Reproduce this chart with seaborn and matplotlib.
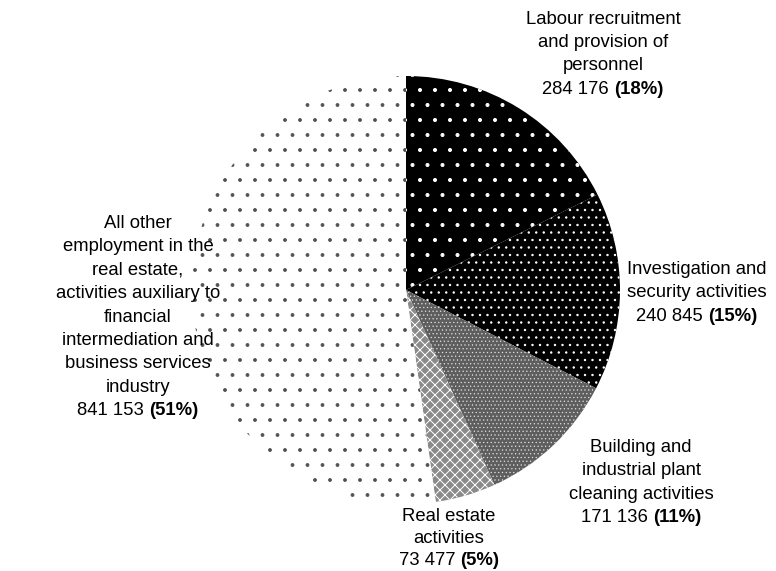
import matplotlib
matplotlib.use("Agg")
import matplotlib.pyplot as plt
import seaborn as sns

# Employment by industry group (real estate, financial intermediation support and business services)
categories = [
    "Labour recruitment\nand provision of\npersonnel",
    "Investigation and\nsecurity activities",
    "Building and\nindustrial plant\ncleaning activities",
    "Real estate\nactivities",
    "All other\nemployment in the\nreal estate,\nactivities auxiliary to\nfinancial\nintermediation and\nbusiness services\nindustry",
]
employment = [284176, 240845, 171136, 73477, 841153]
share_pct = [18, 15, 11, 5, 51]

sns.set_theme(style="white")
plt.rcParams["font.family"] = ["Liberation Sans", "DejaVu Sans"]
plt.rcParams["text.color"] = "#000000"
plt.rcParams["hatch.linewidth"] = 0.6

W, H = 776, 571
DPI = 90
fig = plt.figure(figsize=(W / DPI, H / DPI), dpi=DPI)
ax = fig.add_axes([0, 0, 1, 1])

# pie geometry in pixel units (y measured from the bottom)
cx, cy, r = 406, H - 290, 214
wedges, _ = ax.pie(
    employment,
    startangle=90,
    counterclock=False,
    center=(cx, cy),
    radius=r,
    wedgeprops=dict(linewidth=0),
)

fills = [
    dict(face="#000000", edge="#ffffff", hatch=".", lw=0.8),
    dict(face="#000000", edge="#ffffff", hatch="..", lw=0.7),
    dict(face="#5e5e5e", edge="#e0e0e0", hatch="....", lw=0.5),
    dict(face="#8a8a8a", edge="#ffffff", hatch="xxx", lw=0.8),
    dict(face="#ffffff", edge="#505050", hatch=".", lw=0.6),
]
for w, f in zip(wedges, fills):
    w.set_facecolor(f["face"])
    w.set_edgecolor(f["edge"])
    w.set_hatch(f["hatch"])
    w.set_linewidth(0)
    if hasattr(w, "set_hatch_linewidth"):
        w.set_hatch_linewidth(f["lw"])

ax.set_xlim(0, W)
ax.set_ylim(0, H)
ax.axis("off")

# label placement: centre x and first baseline (pixels from top)
label_pos = [(603, 23.5), (697, 274), (641, 452), (449, 521), (138, 228)]
step = 23.4
fs = 13.3 * 100 / DPI

fig.canvas.draw()
renderer = fig.canvas.get_renderer()

for k, (cat, val, pct, (lx, ly)) in enumerate(zip(categories, employment, share_pct, label_pos)):
    lines = cat.split("\n")
    gap = 22.0 if k == 3 else step
    for i, line in enumerate(lines):
        ax.text(lx, H - (ly + i * gap), line, ha="center", va="baseline",
                fontsize=fs, color="#000000")
    yb = H - (ly + len(lines) * gap)
    num = f"{val:,}".replace(",", " ") + " "
    t1 = ax.text(0, yb, num, ha="left", va="baseline", fontsize=fs,
                 color="#000000")
    t2 = ax.text(0, yb, f"({pct}%)", ha="left", va="baseline",
                 fontsize=fs, fontweight="bold", color="#000000")
    w1 = t1.get_window_extent(renderer).width
    w2 = t2.get_window_extent(renderer).width
    x0 = lx - (w1 + w2) / 2
    t1.set_x(x0)
    t2.set_x(x0 + w1)

fig.savefig("out.png", dpi=DPI)
